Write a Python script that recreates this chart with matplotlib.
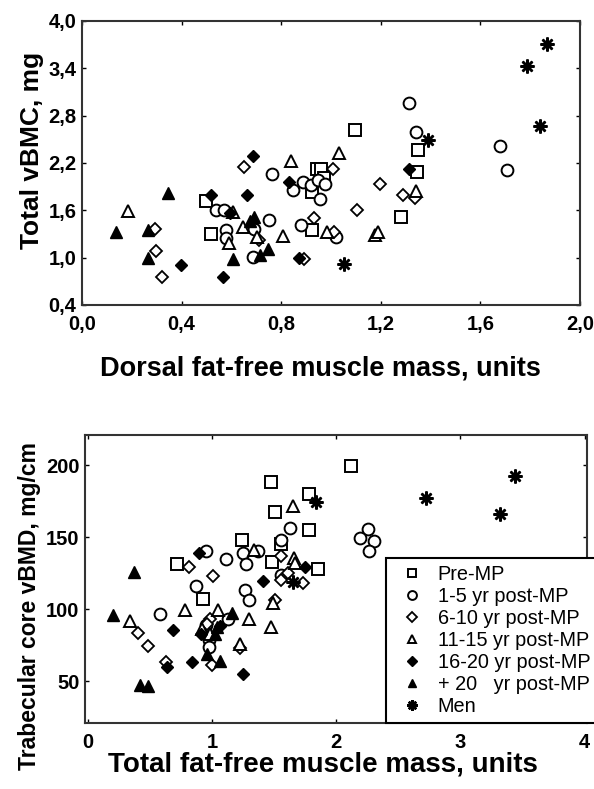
import matplotlib
matplotlib.use("Agg")
import matplotlib.pyplot as plt
from matplotlib.lines import Line2D

plt.rcParams['font.family'] = ['Liberation Sans', 'DejaVu Sans']

groups = ["Pre-MP", "1-5 yr post-MP", "6-10 yr post-MP", "11-15 yr post-MP",
          "16-20 yr post-MP", "+ 20   yr post-MP", "Men"]

# ---------------- Top panel: Dorsal fat-free muscle mass vs Total vBMC ----------------
top_pre_x = [0.498, 0.520, 0.945, 0.960, 0.971, 0.923, 0.923, 1.095, 1.349, 1.345, 1.280]
top_pre_y = [1.72, 1.30, 2.13, 2.12, 2.01, 1.83, 1.35, 2.62, 2.37, 2.08, 1.52]

top_1_5_x = [0.763, 0.889, 0.920, 0.947, 0.974, 0.849, 0.957, 0.540, 0.571, 0.750,
             0.578, 0.578, 0.692, 0.880, 1.021, 0.685, 1.340, 1.313, 1.678, 1.705]
top_1_5_y = [2.06, 1.96, 1.92, 1.99, 1.94, 1.86, 1.74, 1.60, 1.60, 1.48,
             1.35, 1.25, 1.36, 1.41, 1.26, 1.01, 2.59, 2.96, 2.42, 2.11]

top_6_10_x = [0.649, 1.007, 0.931, 1.014, 0.709, 0.294, 0.297, 0.323, 0.891,
              1.198, 1.289, 1.336, 1.104]
top_6_10_y = [2.15, 2.13, 1.50, 1.32, 1.23, 1.36, 1.09, 0.75, 0.98,
              1.93, 1.80, 1.75, 1.60]

top_11_15_x = [0.840, 1.031, 0.185, 0.608, 0.645, 0.589, 0.703, 0.809, 0.983,
               1.340, 1.175, 1.188]
top_11_15_y = [2.22, 2.33, 1.59, 1.58, 1.39, 1.18, 1.26, 1.27, 1.32,
               1.85, 1.29, 1.32]

top_16_20_x = [0.685, 0.833, 0.518, 0.663, 0.596, 0.397, 0.567, 0.873, 1.312]
top_16_20_y = [2.29, 1.96, 1.79, 1.79, 1.56, 0.91, 0.76, 1.00, 2.12]

top_20p_x = [0.347, 0.690, 0.675, 0.138, 0.266, 0.266, 0.608, 0.716, 0.746]
top_20p_y = [1.82, 1.52, 1.47, 1.33, 1.35, 0.99, 0.98, 1.03, 1.11]

top_men_x = [1.390, 1.868, 1.788, 1.839, 1.054]
top_men_y = [2.49, 3.71, 3.43, 2.67, 0.92]

# ---------------- Bottom panel: Total fat-free muscle mass vs trabecular vBMD ----------------
bot_pre_x = [1.476, 1.777, 1.508, 1.777, 1.244, 1.556, 1.481, 1.852, 0.720, 0.922, 2.119]
bot_pre_y = [188.4, 179.7, 167.6, 154.9, 148.4, 145.6, 132.9, 127.8, 131.7, 107.4, 199.3]

bot_1_5_x = [0.949, 1.110, 1.252, 1.373, 1.272, 1.623, 1.556, 0.871, 1.554, 1.266,
             1.293, 0.581, 1.131, 0.954, 0.978, 0.978, 2.256, 2.188, 2.301, 2.260]
bot_1_5_y = [140.5, 135.2, 139.1, 140.3, 131.7, 156.7, 148.4, 116.2, 123.6, 113.2,
             106.3, 97.0, 93.1, 88.9, 78.5, 73.8, 155.6, 149.5, 147.4, 140.5]

bot_6_10_x = [0.809, 1.010, 1.556, 1.607, 1.554, 1.731, 1.508, 0.984, 0.401, 0.486,
              1.220, 0.629, 0.998, 0.960]
bot_6_10_y = [129.4, 122.9, 136.8, 125.5, 120.6, 117.9, 106.3, 93.5, 83.8, 74.5,
              73.1, 63.4, 61.1, 90.0]

bot_11_15_x = [1.651, 1.339, 1.656, 1.669, 1.490, 1.476, 0.782, 0.339, 1.043, 1.293,
               0.917, 0.984, 1.220]
bot_11_15_y = [171.5, 141.0, 135.9, 132.2, 104.0, 87.7, 99.3, 91.7, 99.3, 93.5,
               86.6, 83.1, 76.2]

bot_16_20_x = [0.890, 1.744, 1.406, 0.688, 1.065, 0.909, 0.839, 0.635, 1.252]
bot_16_20_y = [139.1, 129.4, 119.7, 85.9, 88.4, 83.1, 63.4, 60.0, 54.9]

bot_20p_x = [0.373, 0.199, 1.159, 1.040, 1.024, 0.962, 1.065, 0.419, 0.481]
bot_20p_y = [125.9, 96.3, 97.4, 87.5, 83.1, 69.2, 64.1, 47.2, 46.5]

bot_men_x = [1.836, 1.651, 2.726, 3.438, 3.315]
bot_men_y = [174.5, 119.0, 177.3, 192.4, 166.0]

top_xticks = [0.0, 0.4, 0.8, 1.2, 1.6, 2.0]
top_yticks = [0.4, 1.0, 1.6, 2.2, 2.8, 3.4, 4.0]
bot_xticks = [0, 1, 2, 3, 4]
bot_yticks = [50, 100, 150, 200]

styles = [
    dict(marker='s', mfc='white', mec='black', ms=8.5, mew=1.4),
    dict(marker='o', mfc='white', mec='black', ms=8.5, mew=1.4),
    dict(marker='D', mfc='white', mec='black', ms=6.5, mew=1.3),
    dict(marker='^', mfc='white', mec='black', ms=8.5, mew=1.4),
    dict(marker='D', mfc='black', mec='black', ms=6.5, mew=1.0),
    dict(marker='^', mfc='black', mec='black', ms=8.5, mew=1.0),
    dict(marker=(8, 2, 0), mfc='black', mec='black', ms=10, mew=1.8),
]

fig = plt.figure(figsize=(5.94, 7.89), dpi=100)

def comma(v, nd):
    return (f"{v:.{nd}f}").replace('.', ',')

# top axes
ax1 = fig.add_axes([82/594, 1-305/789, (580-82)/594, (305-21)/789])
top_data = [(top_pre_x, top_pre_y), (top_1_5_x, top_1_5_y), (top_6_10_x, top_6_10_y),
            (top_11_15_x, top_11_15_y), (top_16_20_x, top_16_20_y),
            (top_20p_x, top_20p_y), (top_men_x, top_men_y)]
for (xs, ys), st in zip(top_data, styles):
    ax1.plot(xs, ys, linestyle='none', **st)
ax1.set_xlim(0.0, 2.0)
ax1.set_ylim(0.4, 4.0)
ax1.set_xticks(top_xticks)
ax1.set_xticklabels([comma(v, 1) for v in top_xticks])
ax1.set_yticks(top_yticks)
ax1.set_yticklabels([comma(v, 1) for v in top_yticks])

# bottom axes
ax2 = fig.add_axes([85/594, 1-723/789, (587-85)/594, (723-435)/789])
bot_data = [(bot_pre_x, bot_pre_y), (bot_1_5_x, bot_1_5_y), (bot_6_10_x, bot_6_10_y),
            (bot_11_15_x, bot_11_15_y), (bot_16_20_x, bot_16_20_y),
            (bot_20p_x, bot_20p_y), (bot_men_x, bot_men_y)]
for (xs, ys), st in zip(bot_data, styles):
    ax2.plot(xs, ys, linestyle='none', **st)
ax2.set_xlim(-0.025, 4.02)
ax2.set_ylim(21, 221)
ax2.set_xticks(bot_xticks)
ax2.set_xticklabels([str(v) for v in bot_xticks])
ax2.set_yticks(bot_yticks)
ax2.set_yticklabels([str(v) for v in bot_yticks])

for ax in (ax1, ax2):
    for sp in ax.spines.values():
        sp.set_linewidth(1.5)
        sp.set_color('#333333')
    ax.tick_params(direction='in', length=3, width=1, top=True, right=True,
                   labelsize=14.5)
    ax.tick_params(axis='x', pad=7)
    ax.tick_params(axis='y', pad=4)
    for lab in ax.get_xticklabels() + ax.get_yticklabels():
        lab.set_fontweight('bold')

# axis titles placed in figure pixels (matching the reference layout)
fig.text(320/594, 1-368/789, "Dorsal fat-free muscle mass, units", fontsize=19.5,
         fontweight='bold', ha='center', va='center')
fig.text(32/594, 1-150/789, "Total vBMC, mg", fontsize=19, fontweight='bold',
         rotation=90, ha='center', va='center')
fig.text(323/594, 1-765/789, "Total fat-free muscle mass, units", fontsize=20,
         fontweight='bold', ha='center', va='center')
fig.text(30/594, 1-606/789, "Trabecular core vBMD, mg/cm", fontsize=16.5,
         fontweight='bold', rotation=90, ha='center', va='center')

handles = []
for name, st in zip(groups, styles):
    s = dict(st)
    s['ms'] = s['ms'] * 0.75
    handles.append(Line2D([], [], linestyle='none', label=name, **s))
leg = ax2.legend(handles=handles, loc='lower left',
                 bbox_to_anchor=((386-85)/502, 0.0),
                 fontsize=14.3, frameon=True, fancybox=False, framealpha=1,
                 edgecolor='black', borderpad=0.35, labelspacing=0.15,
                 handletextpad=0.35, handlelength=1.9, borderaxespad=0.0)
leg.get_frame().set_linewidth(1.5)
leg.set_clip_on(False)

fig.savefig("out.png", dpi=100)
